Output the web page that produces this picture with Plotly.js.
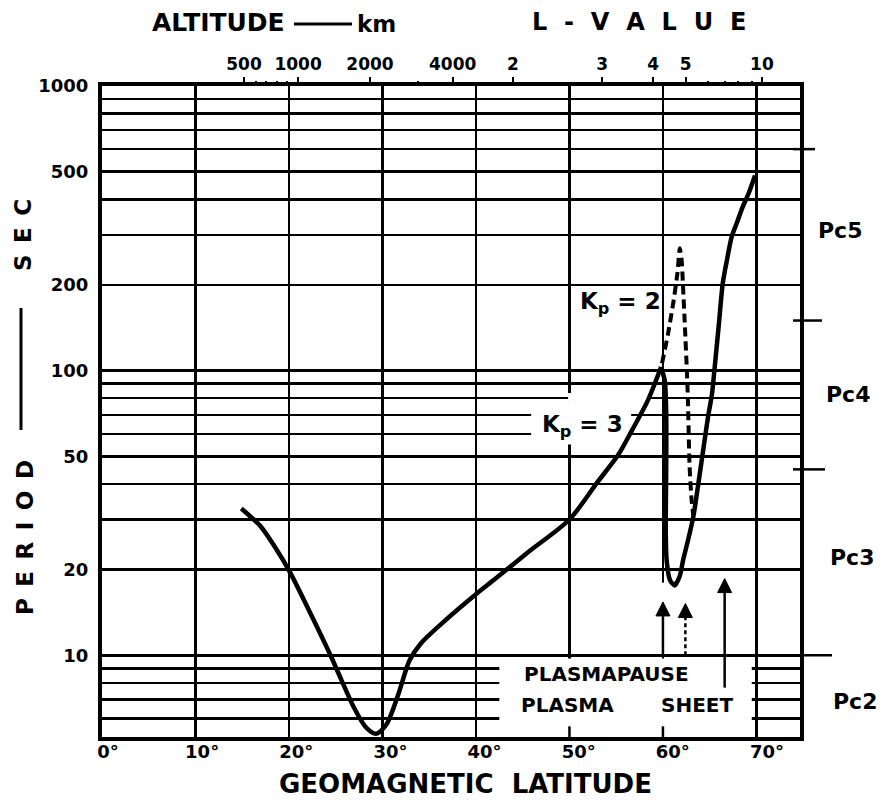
<!DOCTYPE html>
<html><head><meta charset="utf-8">
<script src="https://cdn.plot.ly/plotly-3.0.1.min.js"></script>
<style>html,body{margin:0;padding:0;background:#fff}#chart{width:884px;height:800px}</style>
</head><body><div id="chart"></div>
<script>
// ---------------- data ----------------
// Kp = 3 curve, low-latitude part (up to the peak near the plasmapause)
const kp3LeftLat    = [14.9, 17.0, 18.5, 20.1, 22.5, 24.5, 25.6, 26.9, 28.2, 29.3, 30.4, 31.7, 32.9, 34.1, 36.3, 39.9, 42.1, 45.7, 50.0, 53.0, 55.2, 56.7, 58.4, 59.8];
const kp3LeftPeriod = [32.8, 28.3, 24.0, 19.6, 13.6, 9.9, 8.2, 6.6, 5.6, 5.3, 5.7, 7.3, 9.6, 11.0, 12.9, 16.3, 18.6, 23.2, 30.0, 40.6, 50.5, 61.8, 78.8, 103];
// Kp = 3 curve, high-latitude part (from the peak down to the minimum and up)
const kp3RightLat    = [59.8, 60.2, 60.35, 60.35, 60.3, 60.4, 60.75, 61.26, 61.8, 62.16, 62.7, 63.25, 64.05, 64.8, 65.25, 65.5, 65.95, 66.4, 66.85, 67.35, 67.94, 68.53, 69.16, 69.85];
const kp3RightPeriod = [103, 92, 70, 46, 27, 21.5, 18.4, 17.6, 19.0, 21.6, 25.5, 30.7, 46, 68, 83, 100, 142, 203, 245, 295, 333, 376, 419, 485];
// Kp = 2 (dashed) excursion
const kp2Lat    = [59.9, 60.55, 61.15, 61.55, 61.8, 62.0, 62.15, 62.35, 62.57, 62.67, 62.85, 63.07, 63.25];
const kp2Period = [106, 135, 177, 220, 269, 245, 197, 143, 98, 79, 46, 35, 31];
// Arrows (latitude, tail period, head period)
const arrowLat  = [60.0, 62.4, 66.6];
const arrowFrom = [10.0, 10.0, 7.7];
const arrowTo   = [15.4, 15.2, 18.6];
const arrowDash = ['solid', 'dash', 'solid'];
// Axes
const latGrid       = [10, 20, 30, 40, 50, 60, 70];
const latTicks      = [0, 10, 20, 30, 40, 50, 60, 70];
const latTickText   = ['0°', '10°', '20°', '30°', '40°', '50°', '60°', '70°'];
const periodTicks   = [10, 20, 50, 100, 200, 500, 1000];
const periodLabels  = ['10', '20', '50', '100', '200', '500', '1000'];
const periodMinor   = [6, 7, 8, 9, 30, 40, 60, 70, 80, 90, 300, 400, 600, 700, 800, 900];
// Top scale: altitude (km) and L-value, located by latitude
const topTickLat    = [15.83, 21.65, 29.4, 38.3, 44.8, 54.4, 59.9, 63.4, 71.6];
const topTickText   = ['500', '1000', '2000', '4000', '2', '3', '4', '5', '10'];
const topMinorLat   = [17.1, 18.2, 19.4, 20.5, 34.6, 65.8, 67.6, 69.0, 70.5];
// Pulsation bands
const pcNames  = ['Pc2', 'Pc3', 'Pc4', 'Pc5'];
const pcLow    = [5, 10, 45, 150];
const pcHigh   = [10, 45, 150, 600];

// ---------------- drawing ----------------
const F = 'DejaVu Sans, sans-serif';
const BLACK = '#000';
const sp = (s, gap) => s.split('').join(gap);

const traces = [
  {x: kp3LeftLat, y: kp3LeftPeriod, mode: 'lines', line: {color: BLACK, width: 4.5, shape: 'spline', smoothing: 0.8}},
  {x: kp3RightLat, y: kp3RightPeriod, mode: 'lines', line: {color: BLACK, width: 4.5, shape: 'spline', smoothing: 0.7}},
  {x: kp2Lat, y: kp2Period, mode: 'lines', line: {color: BLACK, width: 4, dash: '9px,5px', shape: 'spline', smoothing: 0.6}}
];
arrowLat.forEach((lat, i) => {
  traces.push({
    x: [lat, lat], y: [arrowFrom[i], arrowTo[i]], mode: 'lines+markers',
    line: {color: BLACK, width: 2.5, dash: arrowDash[i] === 'dash' ? '4px,3px' : 'solid'},
    marker: {symbol: 'arrow-up', size: [0, 14], color: BLACK, opacity: 1, line: {width: 1, color: BLACK}}
  });
});
// carriers so the top (altitude / L) and bottom (latitude label) scales are drawn
traces.push({x: [], y: [], xaxis: 'x2', yaxis: 'y', mode: 'lines'});
traces.push({x: [], y: [], xaxis: 'x3', yaxis: 'y', mode: 'lines'});
traces.forEach(t => { t.showlegend = false; t.hoverinfo = 'skip'; t.cliponaxis = false; });

const W = 698, L = 102;
const px = v => (v - L) / W;          // pixel x -> paper x
const py = v => (737 - v) / 651;      // pixel y -> paper y

const shapes = [
  // blank the lower grid where the plasmapause / plasma sheet labels sit
  {type: 'rect', layer: 'between', xref: 'x', yref: 'y', x0: 42.5, x1: 69.5, y0: 4, y1: 9.75, fillcolor: '#fff', line: {width: 0}},
  // blank grid behind the Kp = 3 label
  {type: 'rect', layer: 'between', xref: 'x', yref: 'y', x0: 45.9, x1: 56.6, y0: 55, y1: 77, fillcolor: '#fff', line: {width: 0}},
  {type: 'rect', layer: 'between', xref: 'x', yref: 'y', x0: 49.85, x1: 58.5, y0: 77, y1: 83.5, fillcolor: '#fff', line: {width: 0}},
  // gap in 60 deg grid line above the arrow head
  {type: 'rect', layer: 'between', xref: 'x', yref: 'y', x0: 59.6, x1: 60.4, y0: 15.3, y1: 18.0, fillcolor: '#fff', line: {width: 0}},
  // short bottom ticks at 50 and 60 deg
  {type: 'line', layer: 'between', xref: 'x', yref: 'y', x0: 50, x1: 50, y0: 4, y1: 5.63, line: {color: BLACK, width: 2.5}},
  {type: 'line', layer: 'between', xref: 'x', yref: 'y', x0: 60, x1: 60, y0: 4, y1: 5.63, line: {color: BLACK, width: 2.5}},
  // "ALTITUDE ---- km" dash
  {type: 'line', xref: 'paper', yref: 'paper', x0: px(294), x1: px(352), y0: py(24), y1: py(24), line: {color: BLACK, width: 3}},
  // long dash of the y title
  {type: 'line', xref: 'paper', yref: 'paper', x0: px(21), x1: px(21), y0: py(308), y1: py(430), line: {color: BLACK, width: 3}}
];
// Pc band boundaries extending beyond the right frame
const pcEnds = [832, 825, 822, 815];
pcHigh.forEach((v, i) => {
  shapes.push({type: 'line', xref: 'paper', yref: 'y', x0: 0.99, x1: px(pcEnds[i]), y0: v, y1: v, line: {color: BLACK, width: 2.5}});
});

const ann = [];
const txt = (text, x, y, size, extra) => Object.assign({
  text: text, x: x, y: y, xref: 'paper', yref: 'paper', showarrow: false,
  font: {family: F, size: size, color: BLACK, weight: 'bold'}, xanchor: 'center', yanchor: 'middle'
}, extra || {});
ann.push(txt('ALTITUDE', px(218), py(22), 25));
ann.push(txt('km', px(376), py(24), 23));
ann.push(txt(sp('L-VALUE', '\u2002\u2009'), px(639), py(22), 24));
ann.push(txt(sp('PERIOD', '\u2002'), px(25), py(538), 23, {textangle: -90}));
ann.push(txt(sp('SEC', '\u2002'), px(23), py(235), 23, {textangle: -90}));
ann.push(txt('GEOMAGNETIC\u00a0\u00a0LATITUDE', px(465), py(784), 26));
ann.push({text: 'K<sub>p</sub> = 2', x: 55.45, y: 2.237, xref: 'x', yref: 'y', showarrow: false, font: {family: F, size: 23, color: BLACK, weight: 'bold'}});
ann.push({text: 'K<sub>p</sub> = 3', x: 51.4, y: 1.805, xref: 'x', yref: 'y', showarrow: false, font: {family: F, size: 23, color: BLACK, weight: 'bold'}});
ann.push({text: 'PLASMAPAUSE', x: 53.96, y: 0.933, xref: 'x', yref: 'y', showarrow: false, font: {family: F, size: 20, color: BLACK, weight: 'bold'}});
ann.push({text: 'PLASMA', x: 49.8, y: 0.824, xref: 'x', yref: 'y', showarrow: false, font: {family: F, size: 20, color: BLACK, weight: 'bold'}});
ann.push({text: 'SHEET', x: 63.6, y: 0.824, xref: 'x', yref: 'y', showarrow: false, font: {family: F, size: 20, color: BLACK, weight: 'bold'}});
const pcX = [855, 852, 848, 840];
const pcY = [701, 557, 394, 230];
pcNames.forEach((n, i) => {
  ann.push(txt(n, px(pcX[i]), py(pcY[i]), 22));
});

const layout = {
  width: 884, height: 800,
  margin: {l: 102, r: 84, t: 86, b: 63, pad: 0},
  paper_bgcolor: '#fff', plot_bgcolor: '#fff',
  showlegend: false, hovermode: false,
  xaxis: {range: [0, 74.66], tickmode: 'array', tickvals: latGrid, showticklabels: false, ticks: '',
          showgrid: true, gridcolor: BLACK, gridwidth: 2.5, zeroline: false,
          showline: true, linecolor: BLACK, linewidth: 4, mirror: true},
  xaxis3: {overlaying: 'x', anchor: 'y', side: 'bottom', range: [-0.637, 73.51], autorange: false, tickmode: 'array',
           tickvals: latTicks, ticktext: latTickText, ticks: '', showgrid: false, showline: false, zeroline: false,
           ticklabelstandoff: 2, tickfont: {family: F, size: 18, color: BLACK, weight: 'bold'}},
  xaxis2: {overlaying: 'x', anchor: 'y', side: 'top', range: [0.538, 75.70], autorange: false, tickmode: 'array',
           tickvals: topTickLat, ticktext: topTickText, ticks: 'outside', ticklen: 8, tickwidth: 2, tickcolor: BLACK,
           showgrid: false, showline: false, zeroline: false,
           tickfont: {family: F, size: 17, color: BLACK, weight: 'bold'},
           minor: {tickmode: 'array', tickvals: topMinorLat, ticks: 'outside', ticklen: 4, tickwidth: 2, tickcolor: BLACK, showgrid: false}},
  yaxis: {type: 'log', range: [0.713, 3.0], tickmode: 'array', tickvals: periodTicks, ticktext: periodLabels,
          ticks: '', ticklabelstandoff: 6, tickfont: {family: F, size: 18, color: BLACK, weight: 'bold'},
          showgrid: true, gridcolor: BLACK, gridwidth: 2.5, zeroline: false,
          minor: {tickmode: 'array', tickvals: periodMinor, ticks: '', showgrid: true, gridcolor: BLACK, gridwidth: 2.5},
          showline: true, linecolor: BLACK, linewidth: 4, mirror: true},
  shapes: shapes,
  annotations: ann
};

Plotly.newPlot('chart', traces, layout, {displayModeBar: false, staticPlot: true});
</script>
</body></html>
